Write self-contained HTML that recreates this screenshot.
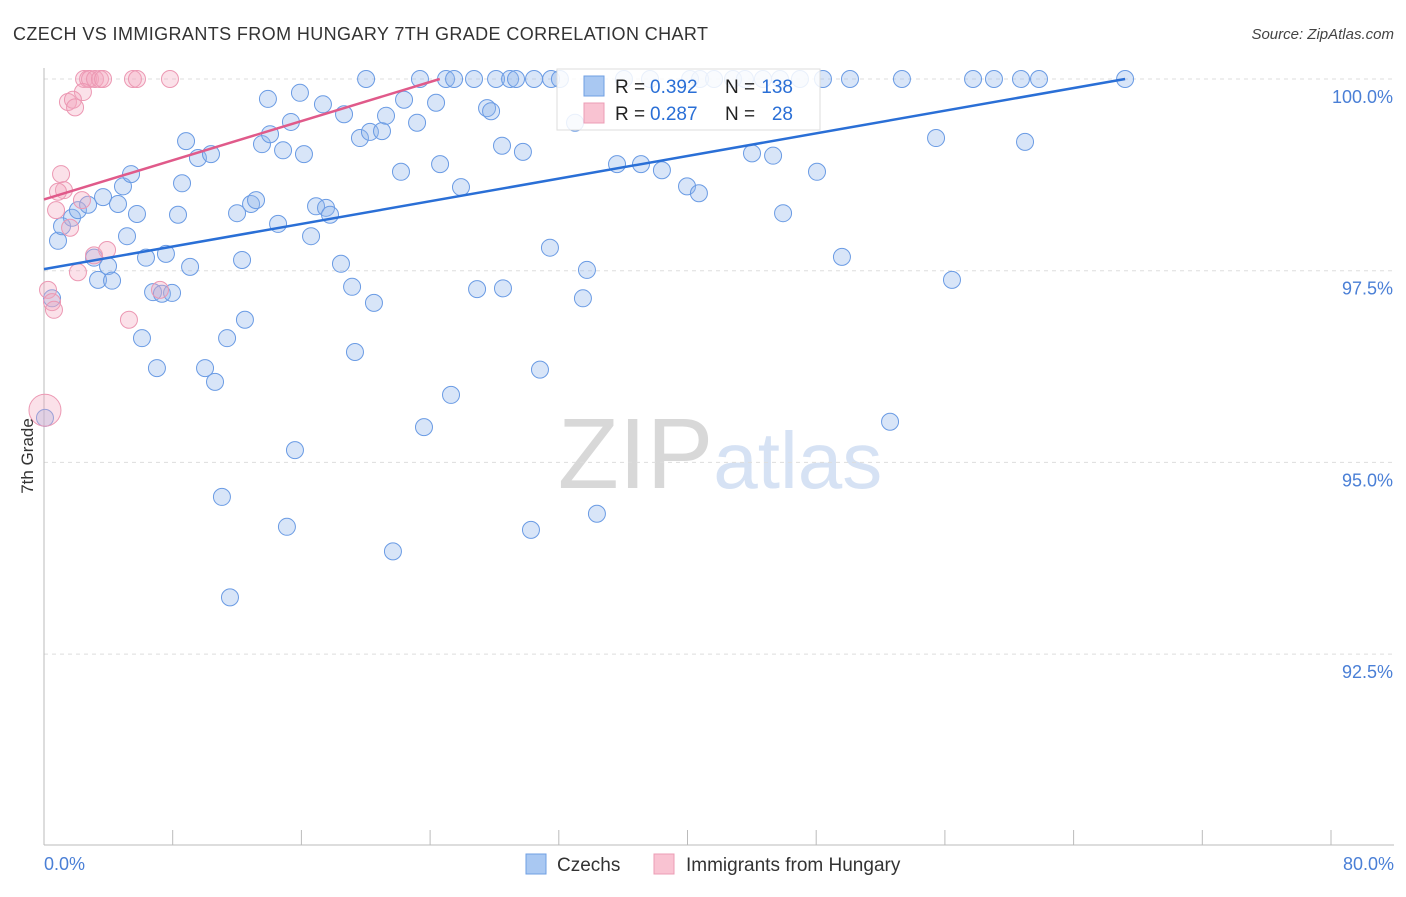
<!DOCTYPE html>
<html><head><meta charset="utf-8"><style>
body{margin:0;background:#fff;font-family:"Liberation Sans",sans-serif;}
svg text{font-family:"Liberation Sans",sans-serif;}
</style></head><body>
<svg id="chart" width="1406" height="892" xmlns="http://www.w3.org/2000/svg">
<text x="13" y="40" font-size="18" fill="#333" textLength="695" lengthAdjust="spacing">CZECH VS IMMIGRANTS FROM HUNGARY 7TH GRADE CORRELATION CHART</text>
<text x="1394" y="39" font-size="15" fill="#444" text-anchor="end" font-style="italic">Source: ZipAtlas.com</text>
<text x="720" y="488" font-size="100" text-anchor="middle" fill="#ddd" font-family="Liberation Serif"><tspan fill="#d8d8d8">ZIP</tspan><tspan fill="#d6e2f4" font-family="Liberation Sans" font-size="80">atlas</tspan></text>
<g id="grid"></g>
<g id="axes"></g>
<g id="pts"></g>
<g id="lines"></g>
<text transform="translate(33,456) rotate(-90)" font-size="17" fill="#333" text-anchor="middle">7th Grade</text>
<g>
<rect x="557" y="69" width="263" height="61" fill="#fff" fill-opacity="0.85" stroke="#ddd"/>
<rect x="584" y="76" width="20" height="20" fill="#a9c8f2" stroke="#6f9fe3"/>
<rect x="584" y="103" width="20" height="20" fill="#f9c3d2" stroke="#ec9cb5"/>
<text x="615" y="93" font-size="19" fill="#222">R =</text>
<text x="650" y="93" font-size="19" fill="#2a6fd6">0.392</text>
<text x="725" y="93" font-size="19" fill="#222">N =</text>
<text x="793" y="93" font-size="19" fill="#2a6fd6" text-anchor="end">138</text>
<text x="615" y="120" font-size="19" fill="#222">R =</text>
<text x="650" y="120" font-size="19" fill="#2a6fd6">0.287</text>
<text x="725" y="120" font-size="19" fill="#222">N =</text>
<text x="793" y="120" font-size="19" fill="#2a6fd6" text-anchor="end">28</text>
</g>
<g>
<rect x="526" y="854" width="20" height="20" fill="#a9c8f2" stroke="#6f9fe3"/>
<text x="557" y="871" font-size="19" fill="#333">Czechs</text>
<rect x="654" y="854" width="20" height="20" fill="#f9c3d2" stroke="#ec9cb5"/>
<text x="686" y="871" font-size="19" fill="#333">Immigrants from Hungary</text>
</g>
</svg>
<script>
const blueX=[0.87,1.12,1.74,2.11,2.74,3.67,4.60,4.91,5.41,5.78,5.16,3.11,3.36,3.98,4.23,6.34,7.58,8.33,8.58,8.83,9.57,10.38,9.08,6.78,7.33,7.96,6.09,7.02,10.01,10.63,11.38,12.49,12.31,12.00,12.87,13.18,13.55,14.05,14.55,14.86,13.92,15.35,15.91,16.16,16.60,16.91,17.34,17.53,17.78,18.46,18.65,19.15,19.33,19.64,20.26,21.01,20.51,21.26,22.19,22.38,23.19,24.37,24.62,25.30,25.92,26.92,27.54,27.79,28.47,28.53,29.77,30.27,30.83,31.45,33.01,33.50,33.75,34.37,35.62,37.11,38.41,39.97,40.71,44.01,45.32,45.94,48.05,49.60,52.59,55.45,56.44,60.98,15.60,15.10,11.06,11.56,21.69,23.62,
20.02,23.37,24.99,25.49,26.73,28.10,28.97,29.34,30.46,31.52,32.07,36.05,37.67,40.16,40.78,41.65,42.83,43.57,44.69,45.75,46.99,48.42,50.10,53.33,57.75,59.05,60.73,61.85,67.20,0.06,0.50];
const blueY=[97.89,98.08,98.19,98.29,98.36,98.46,98.37,98.60,98.76,98.24,97.95,97.67,97.38,97.56,97.37,97.67,97.72,98.23,98.64,99.19,98.97,99.02,97.55,97.22,97.20,97.21,96.62,96.23,96.23,96.05,96.62,96.86,97.64,98.25,98.37,98.42,99.15,99.28,98.11,99.07,99.74,99.44,99.82,99.02,97.95,98.34,99.67,98.32,98.23,97.59,99.54,97.29,96.44,99.23,99.31,99.32,97.08,99.52,98.79,99.73,99.43,99.69,98.89,95.88,98.59,97.26,99.62,99.58,99.13,97.27,99.05,94.12,96.21,97.80,99.43,97.14,97.51,94.33,98.89,98.89,98.81,98.60,98.51,99.03,99.00,98.25,98.79,97.68,95.53,99.23,97.38,99.18,95.16,94.16,94.55,93.24,93.84,95.46,
100,100,100,100,100,100,100,100,100,100,100,100,100,100,100,100,100,100,100,100,100,100,100,100,100,100,100,100,100,95.58,97.14];
const blueBig=[129,130];
const pinkX=[2.49,2.74,2.86,3.17,3.48,3.67,5.53,5.78,7.83,2.42,1.49,1.80,1.93,1.06,1.24,0.87,0.75,1.62,2.36,3.11,3.92,2.11,0.25,0.50,0.62,5.28,7.21,0.06];
const pinkY=[100,100,100,100,100,100,100,100,100,99.83,99.70,99.73,99.63,98.76,98.55,98.53,98.29,98.06,98.42,97.70,97.77,97.48,97.25,97.09,96.99,96.86,97.25,95.68];
const pinkBig=[27];
const blueTrendX=[0,67.2], blueTrendY=[97.52,100];
const pinkTrendX=[0,24.6], pinkTrendY=[98.43,100];
const yTicks=[100,97.5,95,92.5];
const yTickLabels=["100.0%","97.5%","95.0%","92.5%"];
const xTickVals=[0,8,16,24,32,40,48,56,64,72,80];

const NS="http://www.w3.org/2000/svg";
const X0=44,X1=1331,Y100=79,PX_PER=191.7/2.5;
const sx=v=>X0+v/80*(X1-X0);
const sy=v=>Y100+(100-v)*PX_PER;
function mk(tag,attrs,parent){const e=document.createElementNS(NS,tag);for(const k in attrs)e.setAttribute(k,attrs[k]);parent.appendChild(e);return e;}
const grid=document.getElementById('grid'),axes=document.getElementById('axes'),pts=document.getElementById('pts'),lines=document.getElementById('lines');
yTicks.forEach((t,i)=>{
  const l=mk('line',{x1:X0,x2:1394,y1:sy(t),y2:sy(t),stroke:'#ddd','stroke-dasharray':'4,4'},grid);
  
  
  const tx=mk('text',{x:1393,y:sy(t)+24,'font-size':18,fill:'#4a7fd6','text-anchor':'end'},axes);
  tx.textContent=yTickLabels[i];
  
  
});
const yl=mk('line',{x1:X0,x2:X0,y1:68,y2:845,stroke:'#bbb'},axes);


const xl=mk('line',{x1:X0,x2:1394,y1:845,y2:845,stroke:'#bbb'},axes);


xTickVals.forEach(v=>{
  const t=mk('line',{x1:sx(v),x2:sx(v),y1:830,y2:845,stroke:'#bbb'},axes);
  
  
});
const xa=mk('text',{x:44,y:870,'font-size':18,fill:'#4a7fd6'},axes);xa.textContent='0.0%';


const xb=mk('text',{x:1394,y:870,'font-size':18,fill:'#4a7fd6','text-anchor':'end'},axes);xb.textContent='80.0%';


blueX.forEach((v,i)=>{
  const c=mk('circle',{cx:sx(v),cy:sy(blueY[i]),r:blueBig.includes(i)?16:8.5,fill:'#8fb5ec','fill-opacity':0.35,stroke:'#6a9be4','stroke-width':1},pts);
  
  
});
pinkX.forEach((v,i)=>{
  const c=mk('circle',{cx:sx(v),cy:sy(pinkY[i]),r:pinkBig.includes(i)?16:8.5,fill:'#f4a8c0','fill-opacity':0.35,stroke:'#ec98b3','stroke-width':1},pts);
  
  
});
const bl=mk('line',{x1:sx(blueTrendX[0]),y1:sy(blueTrendY[0]),x2:sx(blueTrendX[1]),y2:sy(blueTrendY[1]),stroke:'#2a6fd6','stroke-width':2.5},lines);


const pl=mk('line',{x1:sx(pinkTrendX[0]),y1:sy(pinkTrendY[0]),x2:sx(pinkTrendX[1]),y2:sy(pinkTrendY[1]),stroke:'#e05a8a','stroke-width':2.5},lines);


</script>
</body></html>
